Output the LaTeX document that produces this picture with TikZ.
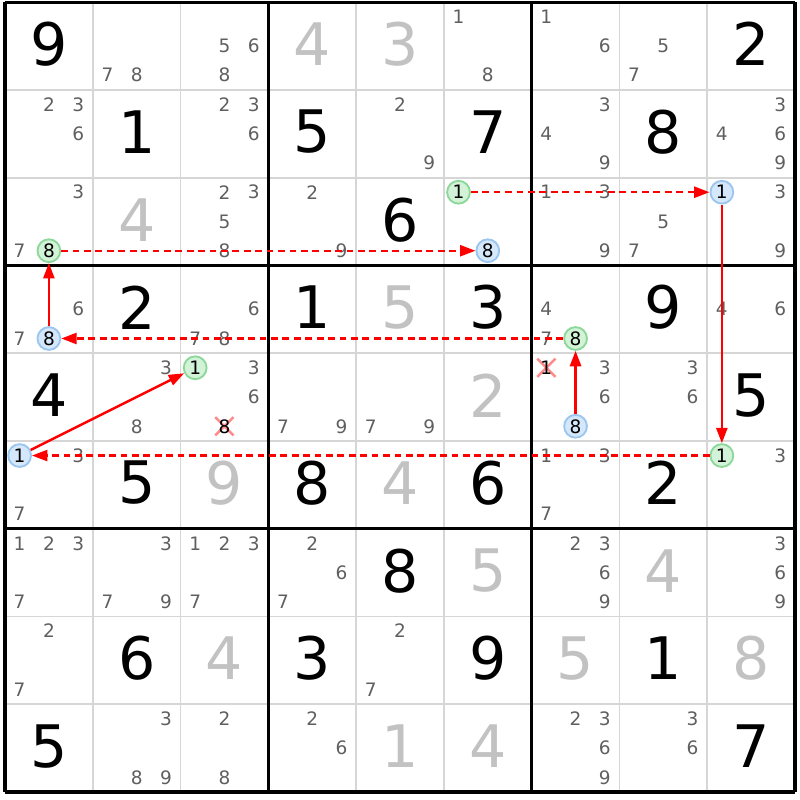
\documentclass[tikz,border=0pt]{standalone}
\usepackage{fontspec}
\setmainfont{DejaVu Sans}
\usetikzlibrary{arrows.meta,shapes.misc}
\definecolor{candgray}{HTML}{5F5F5F}
\definecolor{solvedgray}{HTML}{C2C2C2}
\definecolor{thingray}{HTML}{D6D6D6}
\definecolor{onfill}{HTML}{D3F3D8}
\definecolor{ondraw}{HTML}{8CD89A}
\definecolor{offfill}{HTML}{D5E7FA}
\definecolor{offdraw}{HTML}{9AC6F0}
\definecolor{linkred}{HTML}{FF0000}
\definecolor{crosspink}{HTML}{FF8A8A}
\tikzset{
	given/.style={inner sep=0pt, font=\fontsize{19pt}{19pt}\selectfont},
	solved/.style={given, text=solvedgray},
	cand/.style={inner sep=0pt, text=candgray, font=\fontsize{6pt}{6pt}\selectfont},
	oncand/.style={cand, text=black, circle, minimum size=0.26cm, fill=onfill, draw=ondraw, line width=0.6pt},
	offcand/.style={oncand, fill=offfill, draw=offdraw},
	crossmark/.style={cross out, inner sep=0pt, minimum size=0.18cm, draw=crosspink, line width=0.8pt},
	killcand/.style={cand, text=black},
	strong/.style={draw=linkred, line width=0.8pt, -{Triangle[length=5pt,width=3.6pt]}},
	weak/.style={strong, line width=0.7pt, dash pattern=on 2.2pt off 1.5pt}
}
\def\given(#1,#2)#3{\node[given] at ({#2-0.5},{-#1+0.52}) {#3};}
\def\solved(#1,#2)#3{\node[solved] at ({#2-0.5},{-#1+0.52}) {#3};}
\def\cands(#1,#2)#3{\foreach \d in {#3}{%
	\pgfmathtruncatemacro\cx{mod(\d-1,3)}%
	\pgfmathtruncatemacro\cy{div(\d-1,3)}%
	\node[cand] at ({#2-1+(\cx+0.5)/3},{-#1+1-(\cy+0.5)/3}) {\d};}}

\begin{document}
\begin{tikzpicture}
		%%%%% START %%%%%
		\useasboundingbox (-0.057, 0.023) rectangle (9.057, -9.091);
		
		\draw[thingray, line width=0.6pt] (0, 0) grid (9, -9);
		\draw[line width=1pt, step=3] (0, 0) grid (9, -9);
		
		%%%%% ROW 1-3 %%%%%
		\given(1,1){9}
		\cands(1,2){7,8}
		\cands(1,3){5,6,8}
		\solved(1,4){4}
		\solved(1,5){3}
		\cands(1,6){1,8}
		\cands(1,7){1,6}
		\cands(1,8){5,7}
		\given(1,9){2}
		
		\cands(2,1){2,3,6}
		\given(2,2){1}
		\cands(2,3){2,3,6}
		\given(2,4){5}
		\cands(2,5){2,9}
		\given(2,6){7}
		\cands(2,7){3,4,9}
		\given(2,8){8}
		\cands(2,9){3,4,6,9}
		
		\cands(3,1){3,7}
		\solved(3,2){4}
		\cands(3,3){2,3,5,8}
		\cands(3,4){2,9}
		\given(3,5){6}
		\cands(3,7){1,3,9}
		\cands(3,8){5,7}
		\cands(3,9){3,9}
		
		%%%%% ROW 4-6 %%%%%
		\cands(4,1){6,7}
		\given(4,2){2}
		\cands(4,3){6,7,8}
		\given(4,4){1}
		\solved(4,5){5}
		\given(4,6){3}
		\cands(4,7){4,7}
		\given(4,8){9}
		\cands(4,9){4,6}
		
		\given(5,1){4}
		\cands(5,2){3,8}
		\cands(5,3){3,6}
		\cands(5,4){7,9}
		\cands(5,5){7,9}
		\solved(5,6){2}
		\cands(5,7){3,6}
		\cands(5,8){3,6}
		\given(5,9){5}
		
		\cands(6,1){3,7}
		\given(6,2){5}
		\solved(6,3){9}
		\given(6,4){8}
		\solved(6,5){4}
		\given(6,6){6}
		\cands(6,7){1,3,7}
		\given(6,8){2}
		\cands(6,9){3}
		
		%%%%% ROW 7-9 %%%%%
		\cands(7,1){1,2,3,7}
		\cands(7,2){3,7,9}
		\cands(7,3){1,2,3,7}
		\cands(7,4){2,6,7}
		\given(7,5){8}
		\solved(7,6){5}
		\cands(7,7){2,3,6,9}
		\solved(7,8){4}
		\cands(7,9){3,6,9}
		
		\cands(8,1){2,7}
		\given(8,2){6}
		\solved(8,3){4}
		\given(8,4){3}
		\cands(8,5){2,7}
		\given(8,6){9}
		\solved(8,7){5}
		\given(8,8){1}
		\solved(8,9){8}
		
		\given(9,1){5}
		\cands(9,2){3,8,9}
		\cands(9,3){2,8}
		\cands(9,4){2,6}
		\solved(9,5){1}
		\solved(9,6){4}
		\cands(9,7){2,3,6,9}
		\cands(9,8){3,6}
		\given(9,9){7}
		
		%%%%% CHAIN %%%%%
		\node[oncand] (r3c1n8) at (0.5, -2.8333) {8};
		\node[offcand] (r3c6n8) at (5.5, -2.8333) {8};
		\node[oncand] (r3c6n1) at (5.1667, -2.1667) {1};
		\node[offcand] (r3c9n1) at (8.1667, -2.1667) {1};
		\node[oncand] (r6c9n1) at (8.1667, -5.1667) {1};
		\node[offcand] (r6c1n1) at (0.1667, -5.1667) {1};
		\node[oncand] (r5c3n1) at (2.1667, -4.1667) {1};
		\node[offcand] (r5c7n8) at (6.5, -4.8333) {8};
		\node[oncand] (r4c7n8) at (6.5, -3.8333) {8};
		\node[offcand] (r4c1n8) at (0.5, -3.8333) {8};
		
		\node[crossmark] (r5c3x) at (2.5, -4.8333) {};
		\node[killcand] (r5c3n8) at (r5c3x) {8};
		\node[crossmark] (r5c7x) at (6.1667, -4.1667) {};
		\node[killcand] (r5c7n1) at (r5c7x) {1};
		
		\draw[weak] (r3c1n8) -- (r3c6n8);
		\draw[weak] (r3c6n1) -- (r3c9n1);
		\draw[strong] (r3c9n1) -- (r6c9n1);
		\draw[weak] (r6c9n1) -- (r6c1n1);
		\draw[strong] (r6c1n1) -- (r5c3n1);
		\draw[strong] (r5c7n8) -- (r4c7n8);
		\draw[weak] (r4c7n8) -- (r4c1n8);
		\draw[strong] (r4c1n8) -- (r3c1n8);
		
		%%%%% END %%%%%
	\end{tikzpicture}
\end{document}
